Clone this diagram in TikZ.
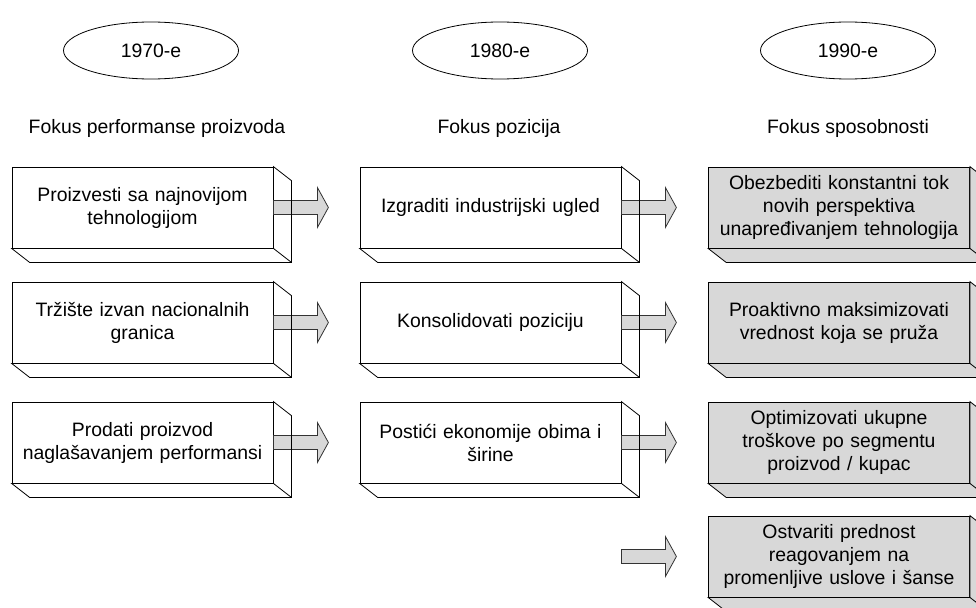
\documentclass[tikz,border=0pt]{standalone}
\usepackage{fontspec}
\setmainfont{Liberation Sans}
\usetikzlibrary{calc,shapes.geometric}
\definecolor{panelgray}{HTML}{D8D8D8}

\tikzset{
  edgeline/.style={draw=black, line width=0.8pt, line join=miter},
  frontface/.style={edgeline, minimum width=261pt, minimum height=81pt,
    inner sep=0pt, text width=257pt, align=center,
    font=\fontsize{19.4}{23}\selectfont},
  era/.style={draw=black, line width=0.8pt, ellipse, minimum width=175pt,
    minimum height=57pt, inner sep=0pt, font=\fontsize{19.4}{23}\selectfont},
  focus/.style={inner sep=0pt, font=\fontsize{19.4}{23}\selectfont},
  flowarrow/.style={draw=black!80, line width=0.8pt, fill=panelgray, line join=miter},
}

% box with a front face and a bevelled right/bottom depth
\newcommand\depthbox[5]{%
  \node[frontface, fill=#2] (#1) at (#3,#4) {#5};
  \filldraw[edgeline, fill=#2] (#1.north east) -- ($(#1.north east)+(18,14)$)
    -- ($(#1.south east)+(18,14)$) -- ($(#1.south west)+(18,14)$)
    -- (#1.south west) -- (#1.south east) -- cycle;
  \draw[edgeline] (#1.south east) -- ($(#1.south east)+(18,14)$);
}

% block arrow leaving a point to the right
\newcommand\flowfrom[1]{%
  \draw[flowarrow] ($(#1)+(0,-7)$) -- ++(44,0) -- ++(0,-13) -- ++(11,20)
    -- ++(-11,20) -- ++(0,-13) -- ++(-44,0) -- cycle;
}

% repaint the outer depth edge over the arrow shaft
\newcommand\depthedge[1]{%
  \draw[edgeline] ($(#1.north east)+(18,14)$) -- ($(#1.south east)+(18,14)$);
}

\begin{document}
\begin{tikzpicture}[x=1pt, y=-1pt]
\useasboundingbox (0,0) rectangle (976,607);
\clip (0,0) rectangle (976,607);

% decades
\node[era] (e70) at (151,50.5) {1970-e};
\node[era] (e80) at (500,50.5) {1980-e};
\node[era] (e90) at (848,50.5) {1990-e};

% focus headings
\node[focus] (f70) at (157,128) {Fokus performanse proizvoda};
\node[focus] (f80) at (499,128) {Fokus pozicija};
\node[focus] (f90) at (848,128) {Fokus sposobnosti};

% first column
\depthbox{a1}{white}{142.5}{207.5}{Proizvesti sa najnovijom\\tehnologijom}
\depthbox{a2}{white}{142.5}{322.5}{Tržište izvan nacionalnih\\granica}
\depthbox{a3}{white}{142.5}{442.5}{Prodati proizvod\\naglašavanjem performansi}

% second column
\depthbox{b1}{white}{490.5}{207.5}{Izgraditi industrijski ugled}
\depthbox{b2}{white}{490.5}{322.5}{Konsolidovati poziciju}
\depthbox{b3}{white}{490.5}{442.5}{Postići ekonomije obima i\\širine}

% third column
\depthbox{c1}{panelgray}{839}{207.5}{Obezbediti konstantni tok\\novih perspektiva\\unapređivanjem tehnologija}
\depthbox{c2}{panelgray}{839}{322.5}{Proaktivno maksimizovati\\vrednost koja se pruža}
\depthbox{c3}{panelgray}{839}{442.5}{Optimizovati ukupne\\troškove po segmentu\\proizvod / kupac}
\depthbox{c4}{panelgray}{839}{556.5}{Ostvariti prednost\\reagovanjem na\\promenljive uslove i šanse}

% arrows between columns
\foreach \n in {a1,a2,a3,b1,b2,b3}{
  \flowfrom{\n.east}
  \depthedge{\n}
}
\coordinate (s4) at ($(b3.east |- c4.west)$);
\flowfrom{s4}
\end{tikzpicture}
\end{document}
